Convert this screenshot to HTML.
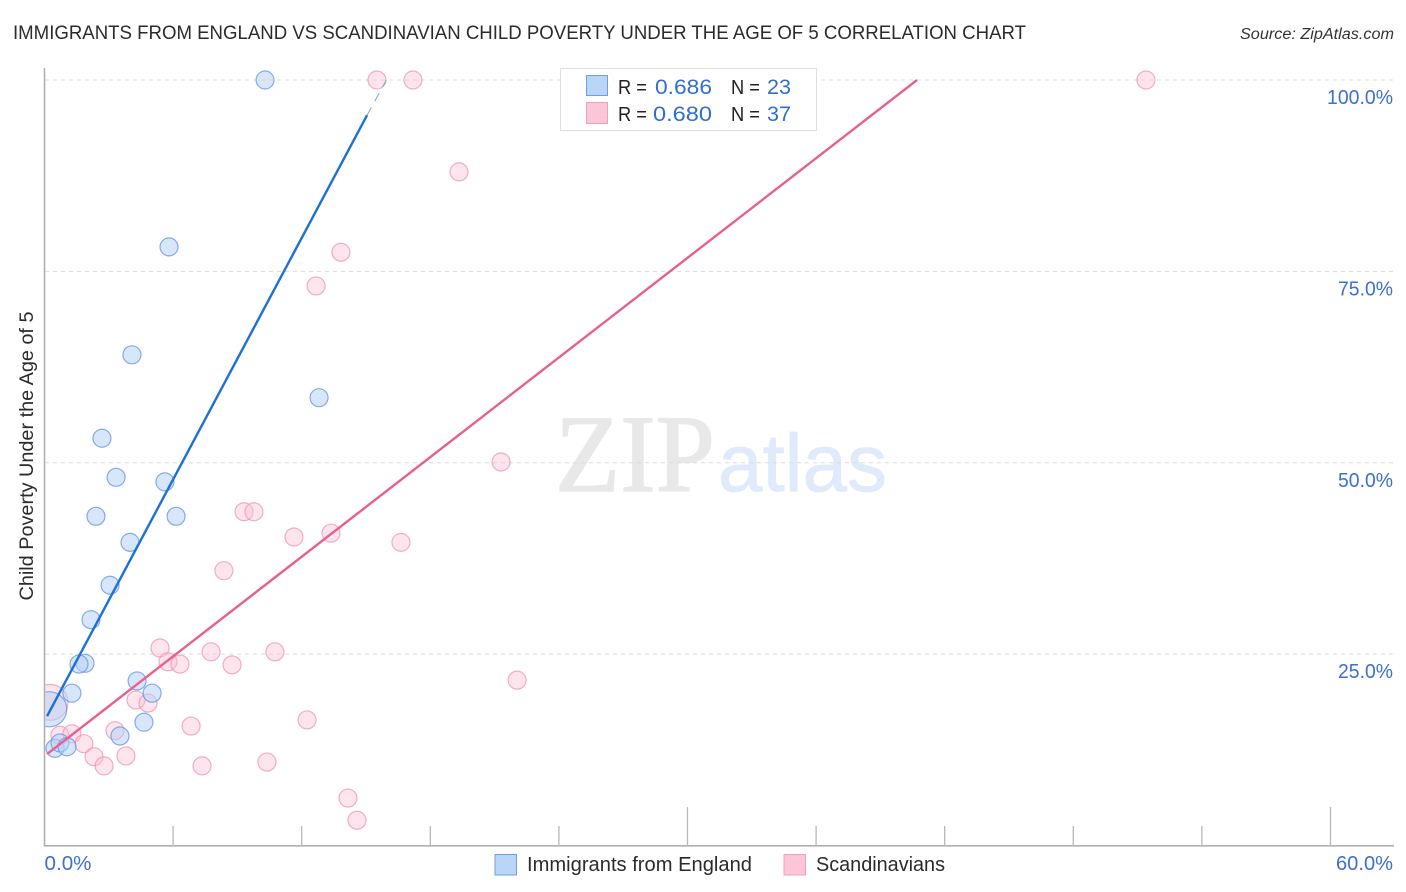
<!DOCTYPE html>
<html lang="en">
<head>
<meta charset="utf-8">
<title>Immigrants from England vs Scandinavian Child Poverty Correlation Chart</title>
<style>
html,body{margin:0;padding:0;background:#fff;width:1406px;height:892px;overflow:hidden}
svg{display:block;font-family:"Liberation Sans",sans-serif}
</style>
</head>
<body>
<svg id="chart" xmlns="http://www.w3.org/2000/svg" width="1406" height="892" viewBox="0 0 1406 892">
  <rect width="1406" height="892" fill="#fff"/>
  <text x="13" y="39" font-size="19.5" fill="#2b2b2b" textLength="1013" lengthAdjust="spacingAndGlyphs">IMMIGRANTS FROM ENGLAND VS SCANDINAVIAN CHILD POVERTY UNDER THE AGE OF 5 CORRELATION CHART</text>
  <text x="1394" y="39" font-size="15.5" font-style="italic" fill="#333" text-anchor="end" textLength="154" lengthAdjust="spacingAndGlyphs">Source: ZipAtlas.com</text>
  <g>
    <text x="555" y="491" font-family="'Liberation Serif',serif" font-size="110" fill="#e8e8e8" stroke="#e8e8e8" stroke-width="1.5" textLength="160" lengthAdjust="spacingAndGlyphs">ZIP</text>
    <text x="718" y="491" font-size="82" fill="#dfeafa" stroke="#dfeafa" stroke-width="0.8" textLength="169" lengthAdjust="spacingAndGlyphs">atlas</text>
  </g>
  <g id="grid"></g>
  <g id="marks"></g>
  <rect x="0" y="660" width="45.5" height="110" fill="#fff"/>
  <g id="axes"></g>
  <g id="lines"></g>
  <g id="labels"></g>
  <text transform="translate(33,456) rotate(-90)" font-size="19" fill="#2b2b2b" text-anchor="middle" textLength="289" lengthAdjust="spacingAndGlyphs">Child Poverty Under the Age of 5</text>
  <g>
    <rect x="560.5" y="68.5" width="256" height="62" fill="#fff" fill-opacity="0.92" stroke="#dedede"/>
    <rect x="586.5" y="75.5" width="21" height="20" fill="#b9d5f8" stroke="#6f9fe0"/>
    <rect x="586.5" y="102.5" width="21" height="21" fill="#fcc6d8" stroke="#f0a0ba"/>
    <text x="618" y="94" font-size="20" fill="#222" textLength="29" lengthAdjust="spacingAndGlyphs">R =</text>
    <text x="655" y="94" font-size="21" fill="#2f6fd0" textLength="57" lengthAdjust="spacingAndGlyphs">0.686</text>
    <text x="731" y="94" font-size="20" fill="#222" textLength="29" lengthAdjust="spacingAndGlyphs">N =</text>
    <text x="767" y="94" font-size="21" fill="#2f6fd0" textLength="24" lengthAdjust="spacingAndGlyphs">23</text>
    <text x="618" y="121" font-size="20" fill="#222" textLength="29" lengthAdjust="spacingAndGlyphs">R =</text>
    <text x="653" y="121" font-size="21" fill="#2f6fd0" textLength="59" lengthAdjust="spacingAndGlyphs">0.680</text>
    <text x="731" y="121" font-size="20" fill="#222" textLength="29" lengthAdjust="spacingAndGlyphs">N =</text>
    <text x="767" y="121" font-size="21" fill="#2f6fd0" textLength="24" lengthAdjust="spacingAndGlyphs">37</text>
  </g>
  <g>
    <rect x="495" y="854.5" width="21.5" height="20.5" fill="#b9d5f8" stroke="#6f9fe0"/>
    <text x="527" y="871" font-size="20" fill="#2b2b2b" textLength="225" lengthAdjust="spacingAndGlyphs">Immigrants from England</text>
    <rect x="784" y="854.5" width="21.5" height="20.5" fill="#fcc6d8" stroke="#f0a0ba"/>
    <text x="816" y="871" font-size="20" fill="#2b2b2b" textLength="129" lengthAdjust="spacingAndGlyphs">Scandinavians</text>
  </g>
</svg>
<script>
const englandX = [10.29,5.81,4.08,12.81,2.68,3.34,5.62,2.40,6.14,3.99,3.06,2.17,1.89,1.61,1.28,4.32,5.02,4.64,3.52,0.49,0.72,1.05,0.22];
const englandY = [100,78.2,64.1,58.5,53.2,48.1,47.5,43.0,43.0,39.6,34.0,29.5,23.8,23.7,19.9,21.5,19.9,16.1,14.3,12.7,13.4,12.9,17.8];
const englandSize = [1,1,1,1,1,1,1,1,1,1,1,1,1,1,1,1,1,1,1,1,1,1,1.95];
const scandX = [15.51,17.19,26.15,51.39,19.34,13.83,12.67,21.30,9.31,9.77,11.64,13.37,16.63,8.37,5.39,5.76,6.32,7.77,8.75,10.75,22.05,4.27,4.83,6.84,12.25,3.29,0.72,1.28,1.84,2.31,2.78,3.80,7.35,10.38,14.16,14.58,0.26];
const scandY = [100,100,100,100,88.0,77.5,73.1,50.1,43.6,43.6,40.3,40.8,39.6,35.9,25.8,24.0,23.7,25.3,23.6,25.3,21.6,19.0,18.6,15.6,16.4,15.0,14.4,14.6,13.3,11.6,10.4,11.7,10.4,10.9,6.2,3.3,18.7];
const scandSize = [1,1,1,1,1,1,1,1,1,1,1,1,1,1,1,1,1,1,1,1,1,1,1,1,1,1,1,1,1,1,1,1,1,1,1,1,2];
const englandTrendX = [0.12,15.05];
const englandTrendY = [16.9,95.4];
const englandTrendExtX = [15.05,15.95];
const englandTrendExtY = [95.4,100];
const scandTrendX = [0.12,40.71];
const scandTrendY = [11.95,100];
const yTickValues = [25,50,75,100];
const yTickLabels = ["25.0%","50.0%","75.0%","100.0%"];
const xTickValues = [0,6,12,18,24,30,36,42,48,54,60];
const xMajorTicks = [0,30,60];
const xEndLabels = ["0.0%","60.0%"];

const NS = "http://www.w3.org/2000/svg";
const xScale = v => 44.5 + v * 21.433;
const yScale = v => 845.5 - v * 7.655;
function make(tag, parent, attrs) {
  const el = document.createElementNS(NS, tag);
  for (const k in attrs) el.setAttribute(k, attrs[k]);
  parent.appendChild(el);
  return el;
}
const grid = document.getElementById("grid");
const axes = document.getElementById("axes");
const marks = document.getElementById("marks");
const lines = document.getElementById("lines");
const labels = document.getElementById("labels");

yTickValues.forEach((v) => {
  const l = make("line", grid, {x1:45, x2:1394, y1:yScale(v), y2:yScale(v), stroke:"#dcdcdc", "stroke-width":1, "stroke-dasharray":"4 4"});
  
  
});
const yAxis = make("line", axes, {x1:44.5, x2:44.5, y1:68, y2:846, stroke:"#b0b0b0", "stroke-width":1.6});


const xAxis = make("line", axes, {x1:44, x2:1394, y1:845.8, y2:845.8, stroke:"#b0b0b0", "stroke-width":1.6});


xTickValues.forEach((v) => {
  if (v === 0) return;
  const top = xMajorTicks.includes(v) ? 807 : 826;
  const t = make("line", axes, {x1:xScale(v), x2:xScale(v), y1:top, y2:846, stroke:"#b8b8b8", "stroke-width":1.3});
  
  
});

scandX.forEach((v, i) => {
  const c = make("circle", marks, {cx:xScale(v), cy:yScale(scandY[i]), r:9*scandSize[i], fill:"#fbbfd3", "fill-opacity":0.42, stroke:"#ec8fae", "stroke-opacity":0.7, "stroke-width":1.2});
  
  
});
englandX.forEach((v, i) => {
  const c = make("circle", marks, {cx:xScale(v), cy:yScale(englandY[i]), r:9*englandSize[i], fill:"#b6d2f7", "fill-opacity":0.55, stroke:"#5e95e0", "stroke-opacity":0.75, "stroke-width":1.2});
  
  
});

const t1 = make("line", lines, {x1:xScale(englandTrendX[0]), y1:yScale(englandTrendY[0]), x2:xScale(englandTrendX[1]), y2:yScale(englandTrendY[1]), stroke:"#1f6fd8", "stroke-width":2.4});


const t1b = make("line", lines, {x1:xScale(englandTrendExtX[0]), y1:yScale(englandTrendExtY[0]), x2:xScale(englandTrendExtX[1]), y2:yScale(englandTrendExtY[1]), stroke:"#8aa4cc", "stroke-width":1, "stroke-dasharray":"9 7"});


const t2 = make("line", lines, {x1:xScale(scandTrendX[0]), y1:yScale(scandTrendY[0]), x2:xScale(scandTrendX[1]), y2:yScale(scandTrendY[1]), stroke:"#e8608f", "stroke-width":2.4});



yTickValues.forEach((v, i) => {
  const t = make("text", labels, {x:1393, y:yScale(v)+24, "font-size":20, fill:"#3c70d2", "text-anchor":"end", textLength: yTickLabels[i].length === 6 ? 66 : 55, lengthAdjust:"spacingAndGlyphs"});
  t.textContent = yTickLabels[i];
  
  
});
const x0Label = make("text", labels, {x:44.5, y:870, "font-size":20, fill:"#3c70d2", textLength:47, lengthAdjust:"spacingAndGlyphs"});
x0Label.textContent = xEndLabels[0];


const x1Label = make("text", labels, {x:1393, y:870, "font-size":20, fill:"#3c70d2", "text-anchor":"end", textLength:57, lengthAdjust:"spacingAndGlyphs"});
x1Label.textContent = xEndLabels[1];


</script>
</body>
</html>
